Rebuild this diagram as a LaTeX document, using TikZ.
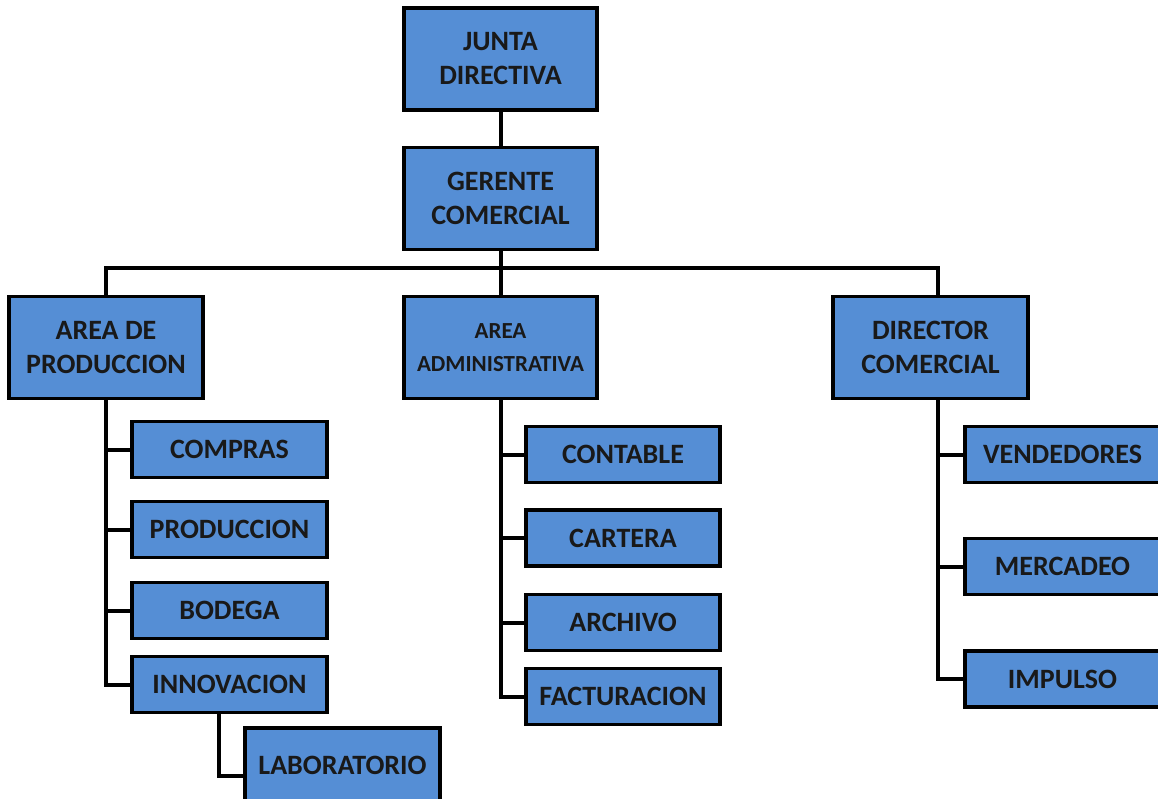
\documentclass[tikz,border=0pt]{standalone}
\usepackage{fontspec}
\setmainfont{Carlito}
\usetikzlibrary{positioning, calc, backgrounds}
\definecolor{boxblue}{RGB}{85,142,213}

\begin{document}
\begin{tikzpicture}[x=1pt, y=-1pt,
    orgbox/.style={rectangle, draw=black, line width=3.5pt, fill=boxblue, inner sep=0pt,
      align=center, font=\fontsize{28}{34}\selectfont\bfseries, text=black!90},
    headbox/.style={orgbox, minimum width=193pt, minimum height=102pt},
    unitbox/.style={orgbox, minimum width=195pt, minimum height=56pt},
    link/.style={line width=4pt, line cap=rect}]
  \clip (0,0) rectangle (1158,799);

  % Nodes
  \node[headbox] (junta) at (500.5,59) {JUNTA\\DIRECTIVA};
  \node[headbox] (gerente) at (500.5,198.5) {GERENTE\\COMERCIAL};
  \node[headbox, minimum width=194pt] (prod) at (106,347.5) {AREA DE\\PRODUCCION};
  \node[headbox, font=\fontsize{23}{33}\selectfont\bfseries] (admin) at (500.5,347.5) {AREA\\ADMINISTRATIVA};
  \node[headbox, minimum width=195pt] (director) at (930.5,347.5) {DIRECTOR\\COMERCIAL};

  \node[unitbox] (compras) at (229.5,449.5) {COMPRAS};
  \node[unitbox] (produccion) at (229.5,529.5) {PRODUCCION};
  \node[unitbox] (bodega) at (229.5,610.5) {BODEGA};
  \node[unitbox] (innovacion) at (229.5,684.5) {INNOVACION};
  \node[unitbox, minimum height=75pt] (laboratorio) at (342.5,765.5) {LABORATORIO};

  \node[unitbox, minimum width=194pt] (contable) at (623,454.5) {CONTABLE};
  \node[unitbox, minimum width=194pt] (cartera) at (623,538) {CARTERA};
  \node[unitbox, minimum width=194pt] (archivo) at (623,622.5) {ARCHIVO};
  \node[unitbox, minimum width=194pt] (facturacion) at (623,696.5) {FACTURACION};

  \node[unitbox] (vendedores) at (1062.5,454.5) {VENDEDORES};
  \node[unitbox] (mercadeo) at (1062.5,566.5) {MERCADEO};
  \node[unitbox] (impulso) at (1062.5,679) {IMPULSO};

  % Lines
  \coordinate (bus) at (500.5,268);
  \coordinate (dirtop) at ([xshift=7.5pt]director.north);
  \coordinate (dirfoot) at ([xshift=7.5pt]director.south);
  \begin{pgfonlayer}{background}
  \fill[white] (0,0) rectangle (1158,799);
  \draw[link] (junta.south) -- (gerente.north);
  \draw[link] (gerente.south) -- (admin.north);
  \draw[link] (prod.north) |- (bus) -| (dirtop);
  \foreach \u in {compras,produccion,bodega,innovacion}
    \draw[link] (prod.south) |- (\u.west);
  \foreach \u in {contable,cartera,archivo,facturacion}
    \draw[link] (admin.south) |- (\u.west);
  \foreach \u in {vendedores,mercadeo,impulso}
    \draw[link] (dirfoot) |- (\u.west);
  \draw[link] ([xshift=-10.5pt]innovacion.south) |- ([yshift=-10pt]laboratorio.west);
  \end{pgfonlayer}
\end{tikzpicture}
\end{document}
